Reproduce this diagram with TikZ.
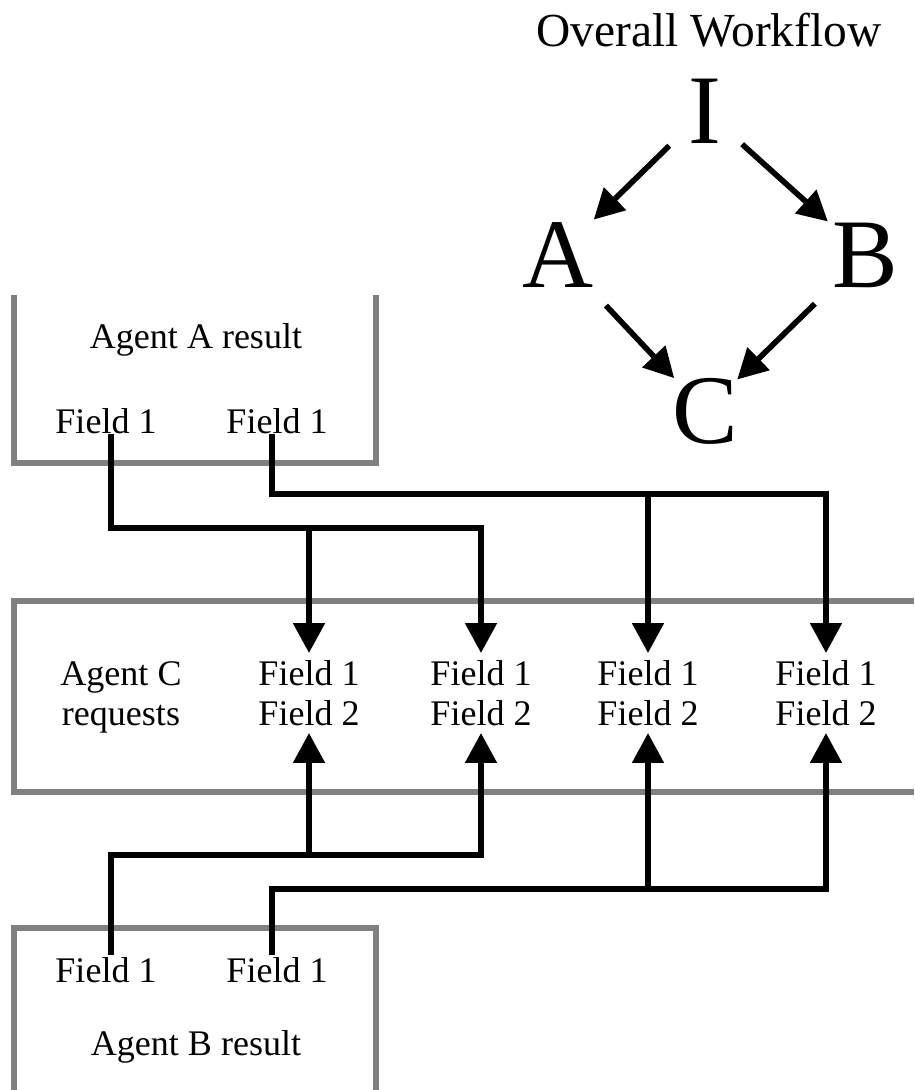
\documentclass[tikz,border=0pt]{standalone}
\usepackage{fontspec}
\setmainfont{Liberation Serif}
\usepackage{tikz}
\usetikzlibrary{arrows.meta}

\definecolor{boxgray}{gray}{0.5}
\tikzset{
   wall/.style={draw=boxgray, line width=3pt},
   link/.style={line width=3.2pt, -{Triangle[length=17pt,width=17.5pt]}},
   txt/.style={font=\fontsize{20.5}{22.7}\selectfont, inner sep=0pt},
   big/.style={font=\fontsize{56}{60}\selectfont, inner sep=0pt, anchor=base},
}

\begin{document}
\begin{tikzpicture}[x=0.02cm, y=-0.02cm]
   \useasboundingbox (0,0) rectangle (914,1090);

   % workflow I -> A,B -> C
   \node[txt, font=\fontsize{27}{30}\selectfont, anchor=base] (title) at (709,46) {Overall Workflow};
   \node[big] (wI) at (705,143) {I};
   \node[big] (wA) at (558,287) {A};
   \node[big] (wB) at (865,287) {B};
   \node[big] (wC) at (705,443) {C};
   \draw[link, shorten <=10mm, shorten >=10mm] (wI.center) -- (wA.center);
   \draw[link, shorten <=10mm, shorten >=10mm] (wI.center) -- (wB.center);
   \draw[link, shorten <=14mm, shorten >=9mm] (wA.center) -- (wC.center);
   \draw[link, shorten <=14mm, shorten >=9mm] (wB.center) -- (wC.center);

   % agent boxes
   \draw[wall] (14,295) -- (14,463) -- (376,463) -- (376,295);
   \draw[wall] (914,601) -- (14,601) -- (14,792) -- (914,792);
   \draw[wall] (14,1090) -- (14,928) -- (376,928) -- (376,1090);

   \node[txt, anchor=base] (resA) at (196,348) {Agent A result};
   \node[txt, anchor=base] (aF1) at (106,433) {Field 1};
   \node[txt, anchor=base] (aF2) at (277,433) {Field 1};

   \node[txt, align=center] (reqC) at (121,697) {Agent C\\requests};
   \node[txt, align=center, inner sep=4pt] (cF1) at (309,693) {Field 1\\Field 2};
   \node[txt, align=center, inner sep=4pt] (cF2) at (481,693) {Field 1\\Field 2};
   \node[txt, align=center, inner sep=4pt] (cF3) at (648,693) {Field 1\\Field 2};
   \node[txt, align=center, inner sep=4pt] (cF4) at (826,693) {Field 1\\Field 2};

   \node[txt, anchor=base] (bF1) at (106,982) {Field 1};
   \node[txt, anchor=base] (bF2) at (277,982) {Field 1};
   \node[txt, anchor=base] (resB) at (196,1055) {Agent B result};

   % field links
   \coordinate (jA1) at (0,528);
   \coordinate (jA2) at (0,494);
   \coordinate (jB1) at (0,855);
   \coordinate (jB2) at (0,889);

   \draw[link] ([xshift=1mm]aF1.south) |- (cF2.north |- jA1) -- (cF2.north);
   \draw[link] (cF1.north |- jA1) -- (cF1.north);
   \draw[link] ([xshift=-1mm]aF2.south) |- (cF4.north |- jA2) -- (cF4.north);
   \draw[link] (cF3.north |- jA2) -- (cF3.north);

   \draw[link] ([xshift=1mm,yshift=1pt]bF1.north) |- (cF2.south |- jB1) -- (cF2.south);
   \draw[link] (cF1.south |- jB1) -- (cF1.south);
   \draw[link] ([xshift=-1mm,yshift=1pt]bF2.north) |- (cF4.south |- jB2) -- (cF4.south);
   \draw[link] (cF3.south |- jB2) -- (cF3.south);
\end{tikzpicture}
\end{document}
